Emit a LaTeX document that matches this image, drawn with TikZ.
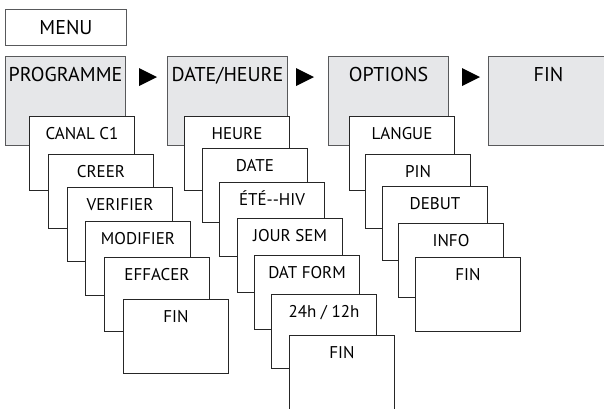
\documentclass[tikz,border=0pt]{standalone}
\usepackage{fontspec}
\newfontfamily\menufont{PT Sans}
\usetikzlibrary{calc}
\definecolor{boxgray}{HTML}{E6E7E9}
\definecolor{edgegray}{HTML}{58595B}

\begin{document}
\begin{tikzpicture}[x=1pt,y=-1pt,
  mainbox/.style={draw=edgegray, line width=1pt, fill=boxgray, anchor=north west,
    minimum width=120pt, inner sep=0pt, text height=25pt, text depth=64pt,
    font=\menufont\fontsize{20}{24}\selectfont},
  subbox/.style={draw=black!85, line width=1pt, fill=white, anchor=north west,
    minimum width=105pt, inner sep=0pt, text height=23pt, text depth=51pt,
    font=\menufont\fontsize{17}{20}\selectfont}]

\useasboundingbox (0,0) rectangle (604,408);

% Title box
\node[draw=edgegray, line width=1pt, anchor=north west, minimum width=121pt,
  minimum height=36pt, inner sep=0pt, font=\menufont\fontsize{20}{24}\selectfont]
  (menu) at (5,9) {MENU};

% Main menu entries
\node[mainbox] (prog) at (5,56) {PROGRAMME};
\node[mainbox] (date) at (167,56) {DATE/HEURE};
\node[mainbox] (opt) at (328,56) {OPTIONS};
\node[mainbox] (fin) at (488,56) {FIN};

% Arrow heads between the main entries
\foreach \a/\dx in {prog/13, date/8, opt/13}
{
    \fill ([xshift=\dx pt, yshift=-12pt]\a.north east) -- ++(18,9) -- ++(-18,9) -- cycle;
}

% Sub menu of PROGRAMME
\foreach \t/\x/\y [count=\i] in {CANAL C1/29/116, CREER/48/154, VERIFIER/67/187,
    MODIFIER/85/221, EFFACER/104/257, FIN/123/299}
{
    \node[subbox] (p\i) at (\x,\y) {\t};
}

% Sub menu of DATE/HEURE
\foreach \t/\x/\y [count=\i] in {HEURE/184/116, DATE/202/148, ÉTÉ--HIV/219/182,
    JOUR SEM/237/218, DAT FORM/254/255, {24h / 12h}/271/294, FIN/289/335}
{
    \node[subbox] (d\i) at (\x,\y) {\t};
}

% Sub menu of OPTIONS
\foreach \t/\x/\y [count=\i] in {LANGUE/349/116, PIN/365/154, DEBUT/382/186,
    INFO/398/223, FIN/415/257}
{
    \node[subbox] (o\i) at (\x,\y) {\t};
}

\end{tikzpicture}
\end{document}
